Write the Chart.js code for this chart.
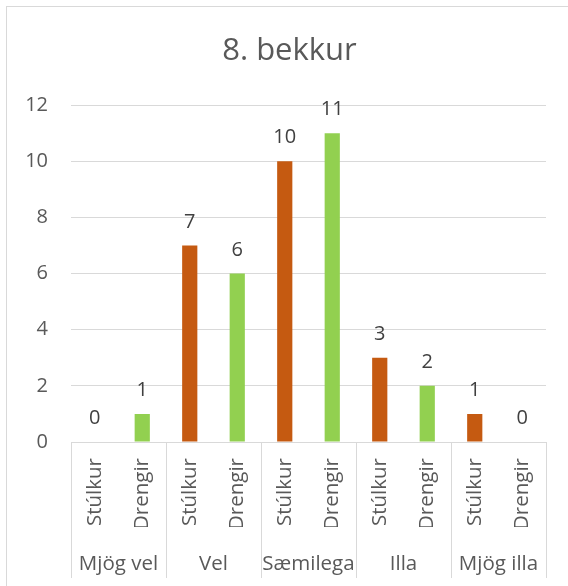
<!DOCTYPE html>
<html>
<head>
<meta charset="utf-8">
<script src="https://cdn.jsdelivr.net/npm/chart.js@4"></script>
<style>
    body { margin: 0; background: #fff; }
    #frame { position: absolute; left: 6px; top: 6px; width: 600px; height: 600px;
             border-left: 1px solid #d9d9d9; border-top: 1px solid #d9d9d9; }
    #chart { position: absolute; left: 0; top: 0; }
</style>
</head>
<body>
<div id="frame"></div>
<canvas id="chart" width="568" height="586"></canvas>
<script>
const groups = ['Mjög vel', 'Vel', 'Sæmilega', 'Illa', 'Mjög illa'];
const genders = ['Stúlkur', 'Drengir'];
const girls = [0, 7, 10, 3, 1];
const boys = [1, 6, 11, 2, 0];
const genderColors = ['#C55A11', '#92D050'];
const yMin = 0, yMax = 12, yStep = 2;

const labels = groups.flatMap(() => genders);
const values = groups.flatMap((g, i) => [girls[i], boys[i]]);
const colors = groups.flatMap(() => genderColors);

const gridColor = '#d9d9d9';
const textColor = '#595959';
const font = '"Open Sans", sans-serif';

// value labels above each bar
const barValues = {
    id: 'barValues',
    afterDatasetsDraw(chart) {
        const ctx = chart.ctx;
        const meta = chart.getDatasetMeta(0);
        ctx.save();
        ctx.font = '20px ' + font;
        ctx.fillStyle = '#404040';
        ctx.textAlign = 'center';
        ctx.textBaseline = 'alphabetic';
        meta.data.forEach((bar, i) => {
            ctx.fillText(values[i], bar.x, bar.y - 18);
        });
        ctx.restore();
    }
};

// fixed axis heights; the right margin of the plot comes from here
function fixHeight(h) {
    return scale => {
        scale.height = h;
        scale.paddingLeft = 0;
        scale.paddingRight = 22;
    };
}

new Chart(document.getElementById('chart').getContext('2d'), {
    type: 'bar',
    data: {
        labels: labels,
        datasets: [{
            data: values,
            backgroundColor: colors,
            barPercentage: 0.32,
            categoryPercentage: 1,
            xAxisID: 'x'
        }]
    },
    options: {
        responsive: false,
        animation: false,
        devicePixelRatio: 1,
        layout: { padding: { left: 13, right: 2, top: 0, bottom: 8 } },
        plugins: {
            legend: { display: false },
            tooltip: { enabled: false },
            title: {
                display: true,
                text: '8. bekkur',
                color: textColor,
                font: { family: font, size: 31, weight: 'normal' },
                padding: { top: 33, bottom: 35 }
            }
        },
        scales: {
            y: {
                min: yMin,
                max: yMax,
                ticks: { stepSize: yStep, color: textColor, padding: 23,
                         font: { family: font, size: 20 } },
                grid: { color: gridColor, drawTicks: false },
                border: { display: false },
                afterFit: scale => { scale.width = 58; }
            },
            x: {
                position: 'bottom',
                offset: true,
                ticks: { autoSkip: false, minRotation: 90, maxRotation: 90,
                         color: textColor, padding: -120,
                         font: { family: font, size: 20.5 } },
                grid: {
                    offset: true,
                    drawOnChartArea: false,
                    tickLength: 136,
                    color: ctx => (ctx.index === undefined || ctx.index % 2 === 0) ? gridColor : 'rgba(0,0,0,0)'
                },
                border: { display: true, color: gridColor },
                afterFit: fixHeight(85)
            },
            x2: {
                type: 'category',
                position: 'bottom',
                labels: groups,
                offset: true,
                ticks: { autoSkip: false, minRotation: 0, maxRotation: 0,
                         color: textColor, padding: 25,
                         font: { family: font, size: 20.5 } },
                grid: { display: false, drawTicks: false },
                border: { display: false },
                afterFit: fixHeight(51)
            }
        }
    },
    plugins: [barValues]
});
</script>
</body>
</html>
